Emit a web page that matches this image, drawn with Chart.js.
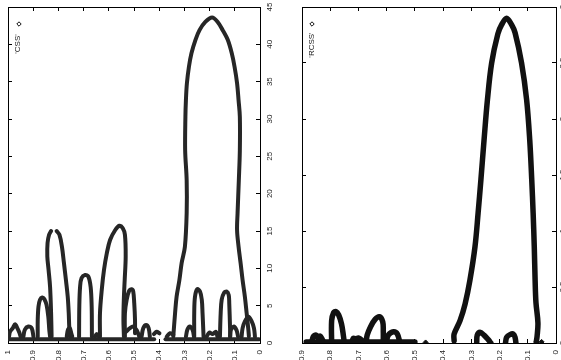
<!DOCTYPE html>
<html>
<head>
<meta charset="utf-8">
<script src="https://cdn.jsdelivr.net/npm/chart.js@4/dist/chart.umd.min.js"></script>
<style>
  html, body { margin: 0; padding: 0; background: #fff; overflow: hidden; width: 561px; height: 360px; }
  #cssChart { position: absolute; left: 0; top: 0; }
  #rcssChart { position: absolute; left: 294px; top: 0; }
</style>
</head>
<body>
<canvas id="cssChart" width="292" height="360"></canvas>
<canvas id="rcssChart" width="294" height="360"></canvas>
<script>
// tick labels
const cssXTicks = [1, 0.9, 0.8, 0.7, 0.6, 0.5, 0.4, 0.3, 0.2, 0.1, 0];
const cssYTicks = [0, 5, 10, 15, 20, 25, 30, 35, 40, 45];
const rcssXTicks = [0.9, 0.8, 0.7, 0.6, 0.5, 0.4, 0.3, 0.2, 0.1, 0];
const rcssYTicks = [0, 0.5, 1, 1.5, 2, 2.5, 3];

// 'CSS' panel, [x, y]
const cssBaseA = [[0.995, 0.5], [0.42, 0.5]];
const cssBaseB = [[0.375, 0.5], [0.005, 0.5]];
const cssBig = [[0.344, 0.9], [0.337, 4.0], [0.331, 6.2], [0.32, 8.4], [0.311, 10.7], [0.298, 12.9], [0.291, 17.4],
  [0.291, 21.8], [0.297, 25.8], [0.296, 30.3], [0.294, 32.5], [0.29, 34.8], [0.282, 37.0], [0.272, 38.8], [0.256, 40.6],
  [0.24, 41.9], [0.217, 43.0], [0.19, 43.6], [0.168, 43.0], [0.148, 41.9], [0.128, 40.6], [0.112, 38.8], [0.101, 37.0],
  [0.091, 34.8], [0.085, 32.5], [0.08, 30.3], [0.08, 25.8], [0.084, 21.8], [0.089, 17.4], [0.091, 15.1], [0.085, 12.9],
  [0.077, 10.7], [0.069, 8.4], [0.06, 6.2], [0.053, 4.0], [0.046, 1.7], [0.044, 0.9]];
const cssArch1 = [[0.882, 0.85], [0.882, 3.1], [0.879, 4.9], [0.873, 5.8], [0.864, 6.1], [0.856, 5.9], [0.847, 5.1], [0.84, 3.5], [0.836, 1.7], [0.833, 0.85]];
const cssArch2L = [[0.827, 0.85], [0.829, 4.0], [0.833, 7.5], [0.839, 9.8], [0.844, 11.6], [0.843, 13.4], [0.837, 14.5], [0.829, 15.0]];
const cssArch2R = [[0.807, 15.0], [0.796, 14.5], [0.786, 12.9], [0.778, 10.7], [0.77, 8.4], [0.763, 6.2], [0.759, 4.0], [0.757, 2.2], [0.754, 0.85]];
const cssArch3 = [[0.718, 0.85], [0.717, 4.9], [0.714, 7.5], [0.708, 8.7], [0.694, 9.1], [0.681, 8.9], [0.672, 7.5], [0.668, 4.9], [0.667, 0.85]];
const cssArch4 = [[0.635, 0.85], [0.635, 4.0], [0.628, 7.1], [0.619, 9.8], [0.608, 12.0], [0.595, 13.8], [0.575, 15.1], [0.558, 15.7],
  [0.545, 15.4], [0.536, 14.5], [0.533, 11.6], [0.537, 8.4], [0.54, 6.2], [0.542, 3.1], [0.54, 0.85]];
const cssArch5 = [[0.536, 0.85], [0.536, 4.0], [0.529, 5.8], [0.519, 7.0], [0.509, 7.2], [0.503, 6.9], [0.499, 5.3], [0.496, 3.1], [0.496, 1.3]];
const cssArch6 = [[0.261, 0.85], [0.261, 4.0], [0.258, 6.2], [0.249, 7.2], [0.238, 6.9], [0.231, 5.8], [0.228, 4.0], [0.225, 1.7], [0.224, 0.85]];
const cssArch7 = [[0.159, 0.85], [0.156, 4.0], [0.152, 5.8], [0.143, 6.7], [0.132, 6.9], [0.124, 6.4], [0.122, 5.3], [0.119, 2.2], [0.118, 0.85]];
const cssBumpA = [[0.996, 0.85], [0.992, 1.5], [0.981, 2.0], [0.972, 2.5], [0.963, 2.0], [0.955, 1.4], [0.95, 0.85]];
const cssBumpB = [[0.939, 0.85], [0.933, 1.8], [0.919, 2.2], [0.906, 2.0], [0.899, 0.85]];
const cssBumpC = [[0.767, 0.85], [0.762, 1.8], [0.755, 2.0], [0.748, 1.2], [0.745, 0.85]];
const cssBumpD = [[0.655, 0.85], [0.648, 1.2], [0.64, 0.85]];
const cssBumpE = [[0.532, 1.5], [0.516, 2.0], [0.503, 2.2], [0.489, 1.7], [0.479, 0.85]];
const cssBumpF = [[0.47, 0.85], [0.463, 2.0], [0.452, 2.4], [0.442, 2.0], [0.437, 0.85]];
const cssBumpG = [[0.421, 1.2], [0.41, 1.5], [0.399, 1.3]];
const cssBumpH = [[0.37, 0.85], [0.357, 1.3], [0.344, 1.1]];
const cssBumpI = [[0.294, 0.85], [0.288, 1.8], [0.278, 2.2], [0.267, 1.7], [0.262, 0.85]];
const cssBumpJ = [[0.212, 0.85], [0.201, 1.4], [0.188, 1.2], [0.175, 1.5], [0.169, 0.85]];
const cssBumpK = [[0.119, 0.85], [0.115, 1.8], [0.103, 2.2], [0.093, 1.7], [0.087, 0.85]];
const cssBumpL = [[0.073, 0.85], [0.069, 2.0], [0.06, 2.9], [0.046, 3.5], [0.033, 2.9], [0.024, 2.0], [0.02, 0.85]];

// 'RCSS' panel
const rcssBase = [[0.885, 0.01], [0.5, 0.01]];
const rcssBig = [[0.361, 0.02], [0.361, 0.08], [0.34, 0.2], [0.322, 0.35], [0.305, 0.56], [0.287, 0.86], [0.276, 1.16],
  [0.266, 1.46], [0.255, 1.81], [0.243, 2.17], [0.228, 2.5], [0.206, 2.76], [0.193, 2.84], [0.175, 2.9], [0.157, 2.84],
  [0.145, 2.77], [0.122, 2.5], [0.104, 2.17], [0.093, 1.81], [0.086, 1.46], [0.081, 1.16], [0.077, 0.86], [0.074, 0.56],
  [0.071, 0.36], [0.064, 0.18], [0.067, 0.06], [0.07, 0.01]];
const rcssLoop1 = [[0.866, 0.0], [0.86, 0.057], [0.85, 0.071], [0.842, 0.042], [0.836, 0.063], [0.827, 0.027], [0.822, 0.0]];
const rcssLoop2 = [[0.795, 0.0], [0.795, 0.2], [0.788, 0.27], [0.78, 0.28], [0.77, 0.25], [0.76, 0.17], [0.753, 0.06], [0.75, 0.0]];
const rcssLoop3 = [[0.724, 0.0], [0.718, 0.042], [0.709, 0.036], [0.7, 0.045], [0.689, 0.027], [0.683, 0.0]];
const rcssLoop4 = [[0.673, 0.0], [0.669, 0.071], [0.657, 0.146], [0.641, 0.211], [0.626, 0.235], [0.614, 0.19], [0.612, 0.101], [0.612, 0.0]];
const rcssLoop5 = [[0.602, 0.0], [0.594, 0.071], [0.576, 0.101], [0.562, 0.08], [0.553, 0.0]];
const rcssLoop6 = [[0.281, 0.0], [0.279, 0.07], [0.269, 0.095], [0.255, 0.07], [0.24, 0.03], [0.231, 0.0]];
const rcssLoop7 = [[0.179, 0.0], [0.175, 0.05], [0.163, 0.075], [0.151, 0.08], [0.145, 0.05], [0.142, 0.0]];
const rcssDots = [[0.462, 0.005], [0.069, 0.01], [0.051, 0.01]];

const tickFont = { family: '"Liberation Sans", Arial, sans-serif', size: 8 };

function pts(arr) {
  return arr.map(p => ({ x: p[0], y: p[1] }));
}

// thick chain of hollow diamonds: dark stroke plus a light dashed core
function chainSets(list, width, color, core) {
  const sets = [];
  list.forEach(arr => {
    sets.push({ data: pts(arr), showLine: true, borderColor: color, borderWidth: width,
      pointRadius: 0, tension: 0.35, borderCapStyle: 'round', borderJoinStyle: 'round' });
  });
  if (core) {
    list.forEach(arr => {
      sets.push({ data: pts(arr), showLine: true, borderColor: 'rgba(255,255,255,0.7)', borderWidth: 1.2,
        borderDash: [1.5, 1.5], pointRadius: 0, tension: 0.35 });
    });
  }
  return sets;
}

// fixed box sizes so the frame sits where it does in the picture
function fixBox(size) {
  return a => {
    if (a.isHorizontal()) a.height = size; else a.width = size;
    a.paddingTop = 0; a.paddingBottom = 0; a.paddingLeft = 0; a.paddingRight = 0;
  };
}

function frameScales(xMax, yMax, xTicks, yTicks, yWidth, yPad) {
  const grid = { drawOnChartArea: false, drawTicks: true, tickLength: -4, color: '#000', lineWidth: 1 };
  const border = { display: true, color: '#000', width: 1 };
  const setX = a => { a.ticks = xTicks.map(v => ({ value: v })); };
  const setY = a => { a.ticks = yTicks.map(v => ({ value: v })); };
  const label = v => String(v);
  return {
    x: { type: 'linear', position: 'bottom', min: 0, max: xMax, reverse: true, grid: grid, border: border,
      afterBuildTicks: setX, afterFit: fixBox(17),
      ticks: { minRotation: 90, maxRotation: 90, padding: 11, color: '#222', font: tickFont, autoSkip: false, callback: label } },
    xTop: { type: 'linear', position: 'top', min: 0, max: xMax, reverse: true, grid: grid, border: border,
      afterBuildTicks: setX, afterFit: fixBox(0), ticks: { display: false } },
    y: { type: 'linear', position: 'right', min: 0, max: yMax, grid: grid, border: border,
      afterBuildTicks: setY, afterFit: fixBox(yWidth),
      ticks: { minRotation: 90, maxRotation: 90, crossAlign: 'center', padding: yPad, color: '#222', font: tickFont, callback: label } },
    yLeft: { type: 'linear', position: 'left', min: 0, max: yMax, grid: grid, border: border,
      afterBuildTicks: setY, afterFit: fixBox(0), ticks: { display: false } }
  };
}

// key text and diamond, rotated like the rest of the figure
const keyPlugin = {
  id: 'keyPlugin',
  afterDraw(chart, args, opts) {
    const ctx = chart.ctx;
    ctx.save();
    ctx.translate(opts.textX, opts.textY);
    ctx.rotate(-Math.PI / 2);
    ctx.font = '8px "Liberation Sans", Arial, sans-serif';
    ctx.fillStyle = '#222';
    ctx.textAlign = 'center';
    ctx.textBaseline = 'middle';
    ctx.fillText(opts.text, 0, 0);
    ctx.restore();
    ctx.save();
    ctx.strokeStyle = '#111';
    ctx.lineWidth = 1;
    ctx.beginPath();
    ctx.moveTo(opts.markX, opts.markY - 2.2);
    ctx.lineTo(opts.markX + 2.2, opts.markY);
    ctx.lineTo(opts.markX, opts.markY + 2.2);
    ctx.lineTo(opts.markX - 2.2, opts.markY);
    ctx.closePath();
    ctx.stroke();
    ctx.restore();
  }
};

function makeChart(id, datasets, scales, key) {
  return new Chart(document.getElementById(id), {
    type: 'scatter',
    data: { datasets: datasets },
    options: {
      responsive: false,
      animation: false,
      events: [],
      layout: { padding: { left: 8, top: 7, right: 0, bottom: 0 } },
      scales: scales,
      plugins: { legend: { display: false }, tooltip: { enabled: false }, keyPlugin: key }
    },
    plugins: [keyPlugin]
  });
}

const cssLoops = [cssBaseA, cssBaseB, cssBumpA, cssBumpB, cssBumpC, cssBumpD, cssBumpE, cssBumpF, cssBumpG, cssBumpH,
  cssBumpI, cssBumpJ, cssBumpK, cssBumpL, cssArch1, cssArch2L, cssArch2R, cssArch3, cssArch4, cssArch5, cssArch6, cssArch7, cssBig];
makeChart('cssChart', chainSets(cssLoops, 4, '#262626', true), frameScales(1, 45, cssXTicks, cssYTicks, 32, 9),
  { text: "'CSS'", textX: 17.5, textY: 44, markX: 19, markY: 24 });

const rcssLoops = [rcssBase, rcssLoop1, rcssLoop2, rcssLoop3, rcssLoop4, rcssLoop5, rcssLoop6, rcssLoop7, rcssBig];
const rcssSets = chainSets(rcssLoops, 5.5, '#111', false);
rcssSets.push({ data: pts(rcssDots), showLine: false, pointStyle: 'rectRot', pointRadius: 2.5,
  pointBackgroundColor: '#111', pointBorderColor: '#111' });
makeChart('rcssChart', rcssSets, frameScales(0.9, 3, rcssXTicks, rcssYTicks, 32, 5),
  { text: "'RCSS'", textX: 17.5, textY: 45, markX: 18, markY: 24 });
</script>
</body>
</html>
